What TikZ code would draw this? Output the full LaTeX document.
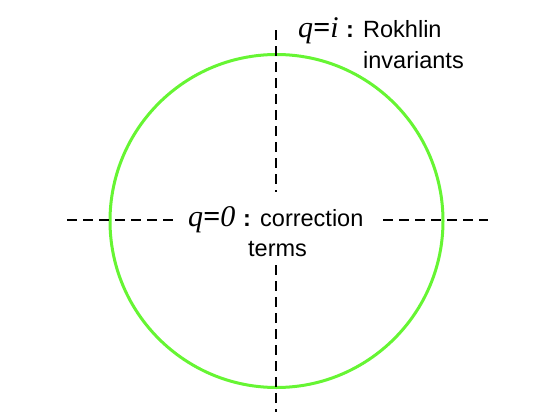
\documentclass[tikz,border=0pt]{standalone}
\usepackage{fontspec}
\setmainfont{Liberation Sans}
\newfontfamily\qfont{Liberation Serif}
\usepackage{tikz}
\usetikzlibrary{positioning,calc}
\definecolor{ringgreen}{RGB}{102,245,51}

\begin{document}
\begin{tikzpicture}[x=1pt,y=-1pt,
  every node/.style={font=\fontsize{23.5}{28}\selectfont,inner sep=0pt},
  axis/.style={black,line width=1.6pt,dash pattern=on 10pt off 6pt},
  qlabel/.style={font=\fontsize{30}{34}\selectfont\qfont\itshape}]
\useasboundingbox (0,0) rectangle (554,415);
% ring and axes
\coordinate (c) at (276.5,221);
\draw[ringgreen,line width=3pt] (c) circle[radius=166.5];
\coordinate (vtop) at (276,30);
\coordinate (vmid1) at (276,192);
\coordinate (vmid2) at (276,265);
\coordinate (vbot) at (276,412);
\coordinate (hl1) at (67,220);
\coordinate (hl2) at (176,220);
\coordinate (hr1) at (383,220);
\coordinate (hr2) at (488,220);
\draw[axis] (vtop) -- (vmid1);
\draw[axis] (vmid2) -- (vbot);
\draw[axis] (hl1) -- (hl2);
\draw[axis] (hr1) -- (hr2);
% labels
\node[qlabel,anchor=base west] (qi) at (298,37) {q\textbf{=}i};
\node[anchor=base west] (qicolon) at (346,37) {\textbf{:}};
\node[anchor=base west] (rok) at (363,37) {Rokhlin};
\node[anchor=base west] (inv) at (363,68) {invariants};
\node[qlabel,anchor=base west] (q0) at (188,226) {q\textbf{=}0};
\node[anchor=base west] (q0colon) at (243,226) {\textbf{:}};
\node[anchor=base west] (corr) at (260,226) {correction};
\node[anchor=base west] (terms) at (248,256) {terms};
\end{tikzpicture}
\end{document}
